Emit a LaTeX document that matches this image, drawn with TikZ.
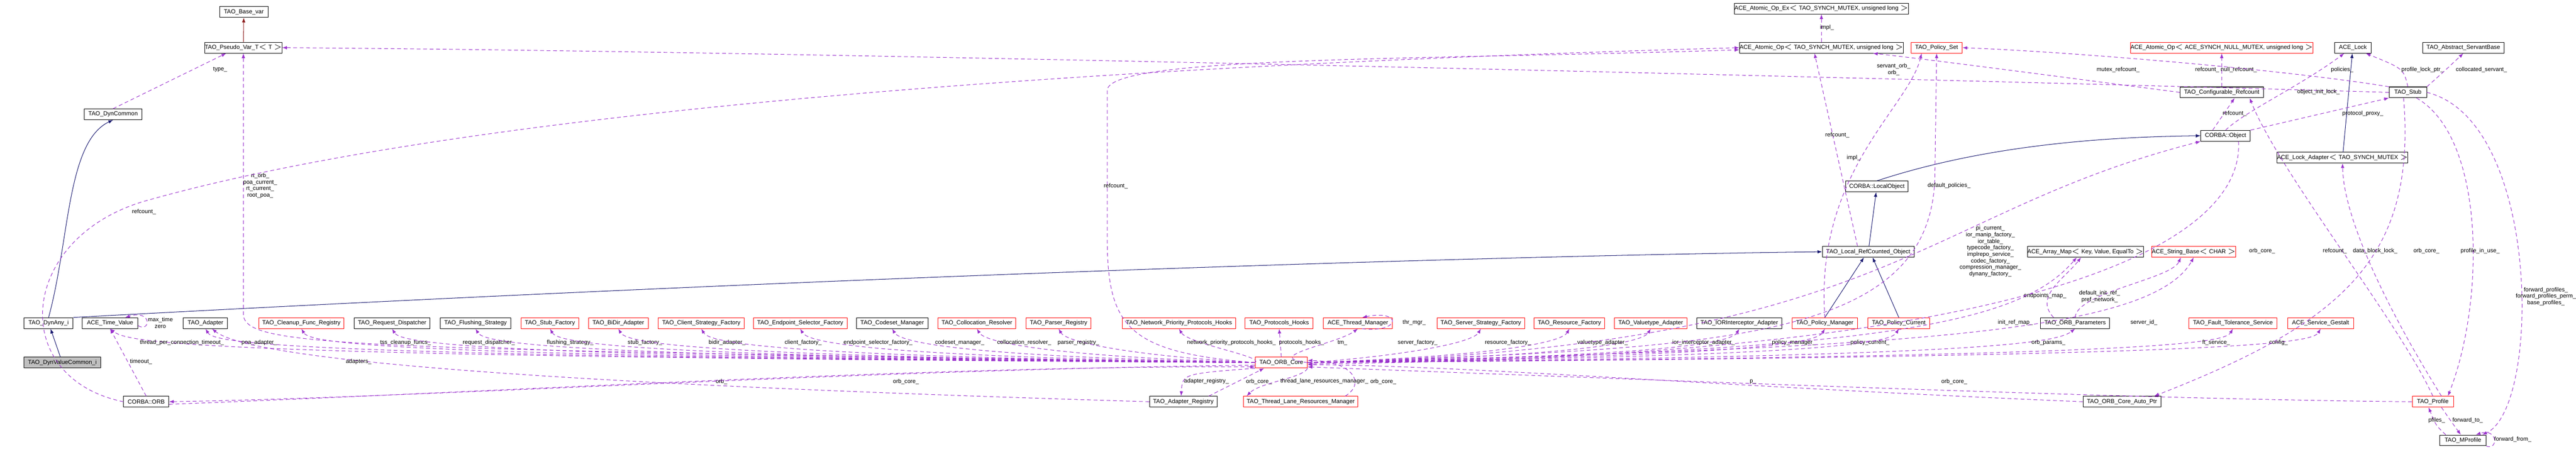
\documentclass[tikz,border=0pt]{standalone}
\usepackage{fontspec}
\newfontfamily\dxfont{Liberation Sans}
\usepackage{tikz}
\usetikzlibrary{arrows.meta}
\definecolor{mbr}{HTML}{9A32CD}
\definecolor{navy}{HTML}{191970}
\definecolor{fbrick}{HTML}{8B1A1A}

\begin{document}
\begin{tikzpicture}[
	line width=0.35pt,
	cls/.style={draw, fill=white, inner sep=0pt, minimum height=0.25cm, font=\dxfont\fontsize{3.9}{4.4}\selectfont},
	redcls/.style={cls, draw=red},
	graycls/.style={cls, fill=black!25},
	lbl/.style={inner sep=0.5pt, align=center, font=\dxfont\fontsize{3.8}{4.3}\selectfont},
	member/.style={draw=mbr, dash pattern=on 2.5pt off 1.8pt, -{Latex[length=1.1mm,width=0.8mm]}},
	inherit/.style={draw=navy, -{Latex[length=1.1mm,width=0.8mm]}},
	]
	\useasboundingbox (0,0) rectangle (59.91,-10.51);
	%Nodes
	\node[cls, minimum width=1.13cm]    (base)      at (5.67,-0.28)  {TAO\_Base\_var};
	\node[cls, minimum width=1.77cm]    (pvar)      at (5.66,-1.11)  {TAO\_Pseudo\_Var\_T$<$ T $>$};
	\node[cls, minimum width=1.35cm]    (dyncommon) at (2.63,-2.66)  {TAO\_DynCommon};
	\node[cls, minimum width=3.92cm]    (aopex)     at (42.36,-0.20) {ACE\_Atomic\_Op\_Ex$<$ TAO\_SYNCH\_MUTEX, unsigned long $>$};
	\node[cls, minimum width=3.69cm]    (aop)       at (42.36,-1.11) {ACE\_Atomic\_Op$<$ TAO\_SYNCH\_MUTEX, unsigned long $>$};
	\node[redcls, minimum width=1.19cm] (pset)      at (45.04,-1.11) {TAO\_Policy\_Set};
	\node[redcls, minimum width=4.17cm] (aopnull)   at (51.67,-1.11) {ACE\_Atomic\_Op$<$ ACE\_SYNCH\_NULL\_MUTEX, unsigned long $>$};
	\node[cls, minimum width=0.85cm]    (acelock)   at (54.72,-1.11) {ACE\_Lock};
	\node[cls, minimum width=1.90cm]    (servant)   at (57.29,-1.11) {TAO\_Abstract\_ServantBase};
	\node[cls, minimum width=1.94cm]    (cref)      at (51.67,-2.15) {TAO\_Configurable\_Refcount};
	\node[cls, minimum width=0.87cm]    (stub)      at (56.00,-2.15) {TAO\_Stub};
	\node[cls, minimum width=1.15cm]    (cobj)      at (51.76,-3.16) {CORBA::Object};
	\node[cls, minimum width=2.98cm]    (lockad)    at (54.48,-3.67) {ACE\_Lock\_Adapter$<$ TAO\_SYNCH\_MUTEX $>$};
	\node[cls, minimum width=1.46cm]    (lobj)      at (43.65,-4.34) {CORBA::LocalObject};
	\node[cls, minimum width=2.13cm]    (lrc)       at (43.45,-5.86) {TAO\_Local\_RefCounted\_Object};
	\node[cls, minimum width=2.67cm]    (amap)      at (48.50,-5.86) {ACE\_Array\_Map$<$ Key, Value, EqualTo $>$};
	\node[redcls, minimum width=1.93cm] (strb)      at (51.02,-5.86) {ACE\_String\_Base$<$ CHAR $>$};
	% row of members
	\node[cls, minimum width=1.14cm]    (dynany)    at (1.13,-7.52)  {TAO\_DynAny\_i};
	\node[cls, minimum width=1.29cm]    (timev)     at (2.56,-7.52)  {ACE\_Time\_Value};
	\node[cls, minimum width=1.03cm]    (adapter)   at (4.78,-7.52)  {TAO\_Adapter};
	\node[redcls, minimum width=1.97cm] (cleanup)   at (7.01,-7.52)  {TAO\_Cleanup\_Func\_Registry};
	\node[cls, minimum width=1.76cm]    (reqdisp)   at (9.12,-7.52)  {TAO\_Request\_Dispatcher};
	\node[cls, minimum width=1.64cm]    (flush)     at (11.06,-7.52) {TAO\_Flushing\_Strategy};
	\node[redcls, minimum width=1.35cm] (stubf)     at (12.79,-7.52) {TAO\_Stub\_Factory};
	\node[redcls, minimum width=1.39cm] (bidir)     at (14.38,-7.52) {TAO\_BiDir\_Adapter};
	\node[redcls, minimum width=2.00cm] (client)    at (16.31,-7.52) {TAO\_Client\_Strategy\_Factory};
	\node[redcls, minimum width=2.18cm] (endsel)    at (18.61,-7.52) {TAO\_Endpoint\_Selector\_Factory};
	\node[cls, minimum width=1.66cm]    (codeset)   at (20.75,-7.52) {TAO\_Codeset\_Manager};
	\node[redcls, minimum width=1.81cm] (colloc)    at (22.72,-7.52) {TAO\_Collocation\_Resolver};
	\node[redcls, minimum width=1.51cm] (parser)    at (24.62,-7.52) {TAO\_Parser\_Registry};
	\node[redcls, minimum width=2.63cm] (nethooks)  at (27.42,-7.52) {TAO\_Network\_Priority\_Protocols\_Hooks};
	\node[redcls, minimum width=1.58cm] (prothooks) at (29.75,-7.52) {TAO\_Protocols\_Hooks};
	\node[redcls, minimum width=1.60cm] (thrmgr)    at (31.58,-7.52) {ACE\_Thread\_Manager};
	\node[redcls, minimum width=2.03cm] (srvstrat)  at (34.44,-7.52) {TAO\_Server\_Strategy\_Factory};
	\node[redcls, minimum width=1.64cm] (resfac)    at (36.50,-7.52) {TAO\_Resource\_Factory};
	\node[redcls, minimum width=1.68cm] (valadapt)  at (38.39,-7.52) {TAO\_Valuetype\_Adapter};
	\node[cls, minimum width=1.97cm]    (iorint)    at (40.45,-7.52) {TAO\_IORInterceptor\_Adapter};
	\node[redcls, minimum width=1.53cm] (polman)    at (42.44,-7.52) {TAO\_Policy\_Manager};
	\node[redcls, minimum width=1.44cm] (polcur)    at (44.16,-7.52) {TAO\_Policy\_Current};
	\node[cls, minimum width=1.61cm]    (orbparams) at (48.26,-7.52) {TAO\_ORB\_Parameters};
	\node[redcls, minimum width=2.05cm] (ftserv)    at (51.93,-7.52) {TAO\_Fault\_Tolerance\_Service};
	\node[redcls, minimum width=1.53cm] (gestalt)   at (53.97,-7.52) {ACE\_Service\_Gestalt};
	% lower rows
	\node[graycls, minimum width=1.78cm] (dynvalue) at (1.45,-8.44)  {TAO\_DynValueCommon\_i};
	\node[redcls, minimum width=1.21cm] (core)      at (29.80,-8.44) {TAO\_ORB\_Core};
	\node[cls, minimum width=1.05cm]    (orb)       at (3.40,-9.35)  {CORBA::ORB};
	\node[cls, minimum width=1.57cm]    (adreg)     at (27.52,-9.35) {TAO\_Adapter\_Registry};
	\node[redcls, minimum width=2.66cm] (tlrm)      at (30.25,-9.35) {TAO\_Thread\_Lane\_Resources\_Manager};
	\node[cls, minimum width=1.81cm]    (autoptr)   at (49.35,-9.35) {TAO\_ORB\_Core\_Auto\_Ptr};
	\node[redcls, minimum width=0.96cm] (profile)   at (56.58,-9.35) {TAO\_Profile};
	\node[cls, minimum width=1.07cm]    (mprofile)  at (57.28,-10.25) {TAO\_MProfile};

	%Inheritance
	\draw[draw=fbrick, -{Latex[length=1.1mm,width=0.8mm]}] (pvar) -- (base);
	\draw[inherit] (dynvalue) -- (dynany);
	\draw[inherit] (dynany.north) .. controls (1.62,-5.6) and (1.55,-3.3) .. (dyncommon.south);
	\draw[inherit] (dynany.north east) .. controls (20,-6.4) and (35,-5.95) .. (lrc.west);
	\draw[inherit] (lrc) -- (lobj);
	\draw[inherit] (lobj.north) .. controls (45.2,-3.7) and (47.5,-3.2) .. (cobj.west);
	\draw[inherit] (polman.north) -- ([xshift=-0.1cm]lrc.south);
	\draw[inherit] (polcur.north) -- ([xshift=0.1cm]lrc.south);
	\draw[inherit] (lockad) -- (acelock);

	%Members, left of the core
	\foreach \n/\bx/\t/\lx in {cleanup/7.01/tss\_cleanup\_funcs\_/9.43, reqdisp/9.12/request\_dispatcher\_/11.37,
		flush/11.06/flushing\_strategy\_/13.26, stubf/12.79/stub\_factory\_/15.0, bidir/14.38/bidir\_adapter\_/16.91,
		client/16.31/client\_factory\_/18.68, endsel/18.61/endpoint\_selector\_factory\_/20.42,
		codeset/20.75/codeset\_manager\_/22.32, colloc/22.72/collocation\_resolver\_/23.82,
		parser/24.62/parser\_registry\_/25.08, nethooks/27.42/network\_priority\_protocols\_hooks\_/28.64,
		adapter/4.78/poa\_adapter\_/6.03, timev/2.8/thread\_per\_connection\_timeout\_/4.23}
	{
		\draw[member] (core.west) .. controls (\bx+2,-8.3) and (\bx+0.2,-8.0) .. (\n.south);
		\node[lbl] at (\lx,-7.98) {\t};
	}
	\draw[member] (core.north) -- (prothooks.south);
	\node[lbl] at (30.27,-7.98) {protocols\_hooks\_};

	%Members, right of the core
	\foreach \n/\bx/\t/\lx in {thrmgr/31.3/tm\_/31.22, srvstrat/34.44/server\_factory\_/32.97,
		resfac/36.50/resource\_factory\_/35.07, valadapt/38.39/valuetype\_adapter\_/37.27,
		iorint/40.45/ior\_interceptor\_adapter\_/39.62, polman/42.44/policy\_manager\_/41.72,
		polcur/44.16/policy\_current\_/43.49, orbparams/48.0/orb\_params\_/47.64,
		ftserv/51.93/ft\_service\_/51.54, gestalt/53.97/config\_/52.99}
	{
		\draw[member] (core.east) .. controls (\bx-2,-8.3) and (\bx-0.2,-8.0) .. (\n.south);
		\node[lbl] at (\lx,-7.98) {\t};
	}

	%Self loops
	\draw[member] ([yshift=-0.06cm]timev.east) .. controls (3.5,-7.75) and (3.55,-7.2) .. ([xshift=0.35cm]timev.north);
	\node[lbl] at (3.73,-7.51) {max\_time\\zero};
	\draw[member] ([xshift=0.1cm]thrmgr.south) .. controls (32.6,-7.75) and (32.6,-7.2) .. ([xshift=0.1cm]thrmgr.north);
	\node[lbl] at (32.89,-7.51) {thr\_mgr\_};
	\draw[member] (mprofile.south east) .. controls (58.1,-10.5) and (58.1,-9.95) .. ([xshift=0.3cm]mprofile.north);
	\node[lbl] at (58.44,-10.23) {forward\_from\_};

	%Members, top part
	\draw[member] (dyncommon.north) -- ([xshift=-0.4cm]pvar.south);
	\node[lbl] at (5.12,-1.62) {type\_};
	\draw[member] (core.west) .. controls (8,-8.1) and (5.66,-8.1) .. (5.66,-7.3) -- (pvar.south);
	\node[lbl] at (6.05,-4.32) {rt\_orb\_\\poa\_current\_\\rt\_current\_\\root\_poa\_};
	\draw[member] (stub.west) .. controls (47,-1.9) and (20,-1.2) .. (pvar.east);
	\node[lbl] at (44.04,-1.62) {servant\_orb\_\\orb\_};
	\draw[member] (orb.west) .. controls (0.2,-8.8) and (0.4,-5.6) .. (3.3,-4.7) .. controls (12,-2.2) and (30,-1.4) .. (aop.west);
	\node[lbl] at (3.35,-4.93) {refcount\_};
	\draw[member] (core.west) .. controls (26.2,-8.2) and (25.75,-7.6) .. (25.75,-5.5) -- (25.75,-2.1) .. controls (25.8,-1.3) and (33,-1.4) .. ([yshift=-0.05cm]aop.west);
	\node[lbl] at (25.95,-4.33) {refcount\_};
	\draw[member] ([xshift=-0.25cm]lrc.north) -- ([xshift=-0.16cm]aop.south);
	\node[lbl] at (42.73,-3.15) {refcount\_};
	\draw[member] (aop) -- (aopex);
	\node[lbl] at (42.49,-0.64) {impl\_};
	\draw[member] (polman.north) .. controls (42.2,-4) and (44.4,-2.5) .. ([xshift=-0.35cm]pset.south);
	\node[lbl] at (43.11,-3.67) {impl\_};
	\draw[member] (core.east) .. controls (40,-8.1) and (45.0,-8.0) .. (45.0,-4.0) -- (pset.south);
	\node[lbl] at (45.33,-4.32) {default\_policies\_};
	\draw[member] (cref.west) .. controls (48,-1.8) and (45,-1.4) .. ([xshift=1.2cm]aop.south);
	\node[lbl] at (49.26,-1.62) {mutex\_refcount\_};
	\draw[member] (cref) -- (aopnull);
	\node[lbl] at (51.77,-1.62) {refcount\_ null\_refcount\_};
	\draw[member] (stub.north west) .. controls (53,-1.6) and (48,-1.2) .. (pset.east);
	\node[lbl] at (54.47,-1.62) {policies\_};
	\draw[member] (stub.north) .. controls (55.9,-1.6) .. ([xshift=0.3cm]acelock.south);
	\node[lbl] at (56.34,-1.62) {profile\_lock\_ptr\_};
	\draw[member] (stub.north east) .. controls (56.8,-1.7) .. (servant.south);
	\node[lbl] at (57.71,-1.62) {collocated\_servant\_};
	\draw[member] (cobj.north) .. controls (52.2,-2.6) and (53.5,-2) .. ([xshift=-0.2cm]acelock.south);
	\node[lbl] at (53.92,-2.14) {object\_init\_lock\_};
	\draw[member] ([xshift=-0.3cm]cobj.north) -- ([xshift=0.3cm]cref.south);
	\node[lbl] at (51.97,-2.64) {refcount\_};
	\draw[member] (cobj.north east) -- (stub.south west);
	\node[lbl] at (54.95,-2.64) {protocol\_proxy\_};
	\draw[member] (core.east) .. controls (44,-8.1) and (44.5,-5) .. (cobj.south west);
	\node[lbl] at (46.29,-5.85) {pi\_current\_\\ior\_manip\_factory\_\\ior\_table\_\\typecode\_factory\_\\implrepo\_service\_\\codec\_factory\_\\compression\_manager\_\\dynany\_factory\_};
	\draw[member] (core.east) .. controls (44,-8.2) and (47,-7.5) .. ([xshift=-0.2cm]amap.south);
	\node[lbl] at (46.87,-7.51) {init\_ref\_map\_};
	\draw[member] ([xshift=-0.5cm]orbparams.north) .. controls (47.3,-6.9) and (48,-6.5) .. ([xshift=-0.1cm]amap.south);
	\node[lbl] at (47.56,-6.89) {endpoints\_map\_};
	\draw[member] (orbparams.north) .. controls (48.3,-6.8) and (50.5,-6.5) .. ([xshift=-0.3cm]strb.south);
	\node[lbl] at (48.83,-6.9) {default\_init\_ref\_\\pref\_network\_};
	\draw[member] (core.east) .. controls (44,-8.1) and (50,-7.8) .. (strb.south);
	\node[lbl] at (49.86,-7.51) {server\_id\_};

	%Members, lower part
	\draw[member] (orb.north) -- (timev.south);
	\node[lbl] at (3.28,-8.42) {timeout\_};
	\draw[member] (adreg.west) .. controls (15,-9.0) and (6,-8.5) .. ([xshift=0.15cm]adapter.south);
	\node[lbl] at (8.34,-8.42) {adapters\_};
	\draw[member] ([yshift=-0.06cm]core.west) .. controls (20,-8.6) and (10,-9.25) .. (orb.east);
	\node[lbl] at (16.78,-8.88) {orb\_};
	\draw[member] ([yshift=-0.06cm]orb.east) .. controls (12,-9.1) and (22,-8.5) .. ([yshift=-0.1cm]core.west);
	\node[lbl] at (21.07,-8.88) {orb\_core\_};
	\draw[member] (core.south west) .. controls (27.5,-8.7) .. ([xshift=-0.05cm]adreg.north);
	\node[lbl] at (28.06,-8.88) {adapter\_registry\_};
	\draw[member] ([xshift=-0.2cm]adreg.north east) -- ([xshift=-0.4cm]core.south);
	\node[lbl] at (29.28,-8.88) {orb\_core\_};
	\draw[member] (core.south east) .. controls (30.3,-8.8) and (29.3,-8.9) .. ([xshift=0.08cm]tlrm.north west);
	\node[lbl] at (30.8,-8.88) {thread\_lane\_resources\_manager\_};
	\draw[member] ([xshift=-0.3cm]tlrm.north east) .. controls (31.8,-8.9) and (31.4,-8.4) .. ([yshift=0.05cm]core.east);
	\node[lbl] at (32.17,-8.88) {orb\_core\_};
	\draw[member] (autoptr.west) .. controls (40,-9.0) and (34,-8.5) .. ([yshift=-0.05cm]core.east);
	\node[lbl] at (40.77,-8.89) {p\_};
	\draw[member] (profile.west) .. controls (50,-9.3) and (40,-8.9) .. ([yshift=-0.1cm]core.east);
	\node[lbl] at (45.45,-8.88) {orb\_core\_};
	\draw[member] ([xshift=0.3cm]cobj.south) .. controls (52.2,-5.5) and (48,-8.3) .. ([yshift=-0.03cm]core.east);
	\node[lbl] at (52.61,-5.84) {orb\_core\_};
	\draw[member] (profile.north) .. controls (55.8,-7.5) and (53.0,-4) .. ([xshift=0.65cm]cref.south);
	\node[lbl] at (54.30,-5.84) {refcount\_};
	\draw[member] ([xshift=0.2cm]profile.north) .. controls (55.4,-7) and (54.5,-5) .. (lockad.south);
	\node[lbl] at (55.24,-5.84) {data\_block\_lock\_};
	\draw[member] ([xshift=-0.1cm]stub.south) .. controls (56.2,-6) and (54.5,-7.5) .. ([xshift=0.75cm]autoptr.north);
	\node[lbl] at (56.43,-5.84) {orb\_core\_};
	\draw[member] ([xshift=0.2cm]stub.south) .. controls (57.8,-3.2) and (57.8,-7) .. ([xshift=0.35cm]profile.north);
	\node[lbl] at (57.68,-5.84) {profile\_in\_use\_};
	\draw[member] (stub.east) .. controls (59.1,-2.8) and (59.1,-9.5) .. ([xshift=0.45cm]mprofile.north);
	\node[lbl] at (59.21,-6.9) {forward\_profiles\_\\forward\_profiles\_perm\_\\base\_profiles\_};
	\draw[member] ([xshift=-0.4cm]mprofile.north) .. controls (56.65,-9.9) .. ([xshift=-0.1cm]profile.south);
	\node[lbl] at (56.67,-9.78) {pfiles\_};
	\draw[member] ([xshift=0.2cm]profile.south) .. controls (57.0,-9.8) .. ([xshift=-0.05cm]mprofile.north);
	\node[lbl] at (57.39,-9.78) {forward\_to\_};
\end{tikzpicture}
\end{document}
